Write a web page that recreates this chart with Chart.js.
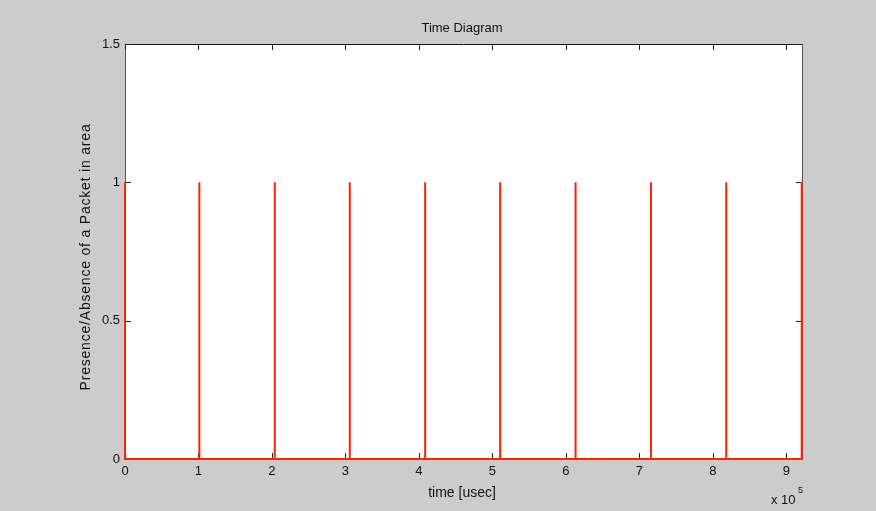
<!DOCTYPE html>
<html>
<head>
<meta charset="utf-8">
<script src="https://cdn.jsdelivr.net/npm/chart.js@4.4.1/dist/chart.umd.min.js"></script>
<style>
  html, body { margin: 0; padding: 0; background: #cccccc; }
  canvas { display: block; }
</style>
</head>
<body>
<canvas id="timeChart" width="876" height="511"></canvas>
<script>
// packet arrival times in usec
const spikeTimes = [101200, 203800, 305900, 408500, 510600, 613200, 715800, 818300, 921000];
const startLevel = 1;
const spikeLevel = 1;
const xMax = 921400;
const xTicks = [0, 100000, 200000, 300000, 400000, 500000, 600000, 700000, 800000, 900000];
const yTicks = [0, 0.5, 1, 1.5];

const FONT = "Liberation Sans, Arial, Helvetica, sans-serif";

function buildPoints() {
  const pts = [{ x: 0, y: startLevel }, { x: 0, y: 0 }];
  spikeTimes.forEach((t, i) => {
    pts.push({ x: t, y: 0 });
    pts.push({ x: t, y: spikeLevel });
    if (i < spikeTimes.length - 1) pts.push({ x: t, y: 0 });
  });
  return pts;
}

const framePlugin = {
  id: "frame",
  beforeDraw(chart) {
    const { ctx, chartArea: a } = chart;
    ctx.save();
    ctx.fillStyle = "#ffffff";
    ctx.fillRect(a.left, a.top, a.right - a.left, a.bottom - a.top);
    ctx.restore();
  },
  beforeDatasetsDraw(chart) {
    const { ctx, chartArea: a, scales } = chart;
    ctx.save();
    ctx.lineWidth = 1;
    // box
    ctx.strokeStyle = "#111111";
    ctx.beginPath();
    ctx.moveTo(a.left, a.top + 0.5);
    ctx.lineTo(a.right, a.top + 0.5);
    ctx.stroke();
    ctx.strokeStyle = "#555555";
    ctx.beginPath();
    ctx.moveTo(a.left + 0.5, a.top);
    ctx.lineTo(a.left + 0.5, a.bottom);
    ctx.moveTo(a.right + 0.5, a.top);
    ctx.lineTo(a.right + 0.5, a.bottom);
    ctx.moveTo(a.left, a.bottom + 0.5);
    ctx.lineTo(a.right, a.bottom + 0.5);
    ctx.stroke();
    // inside ticks
    ctx.strokeStyle = "#222222";
    ctx.beginPath();
    xTicks.forEach((v) => {
      const px = Math.round(scales.x.getPixelForValue(v)) + 0.5;
      ctx.moveTo(px, a.bottom);
      ctx.lineTo(px, a.bottom - 6);
      ctx.moveTo(px, a.top);
      ctx.lineTo(px, a.top + 6);
    });
    yTicks.forEach((v) => {
      const py = Math.round(scales.y.getPixelForValue(v)) + 0.5;
      ctx.moveTo(a.left, py);
      ctx.lineTo(a.left + 6, py);
      ctx.moveTo(a.right, py);
      ctx.lineTo(a.right - 6, py);
    });
    ctx.stroke();
    ctx.restore();
  },
  afterDraw(chart) {
    const { ctx, chartArea: a } = chart;
    const midX = (a.left + a.right) / 2;
    ctx.save();
    ctx.fillStyle = "#111111";
    ctx.textAlign = "center";
    ctx.textBaseline = "middle";
    ctx.font = "13px " + FONT;
    ctx.fillText("Time Diagram", 462, 28);
    ctx.font = "14px " + FONT;
    ctx.fillText("time [usec]", 462, 493);
    // multiplier
    ctx.font = "13px " + FONT;
    ctx.textAlign = "left";
    ctx.fillText("x 10", 771, 500);
    ctx.font = "9px " + FONT;
    ctx.fillText("5", 798, 491);
    // y label
    ctx.font = "14px " + FONT;
    ctx.letterSpacing = "0.8px";
    ctx.translate(86, 257);
    ctx.rotate(-Math.PI / 2);
    ctx.textAlign = "center";
    ctx.fillText("Presence/Absence of a Packet in area", 0, 0);
    ctx.restore();
  },
};

new Chart(document.getElementById("timeChart"), {
  type: "line",
  data: {
    datasets: [
      {
        data: buildPoints(),
        borderColor: "#ff2200",
        borderWidth: 2,
        pointRadius: 0,
        tension: 0,
        fill: false,
        clip: 4,
      },
    ],
  },
  options: {
    responsive: false,
    animation: false,
    devicePixelRatio: 1,
    layout: { padding: { top: 44, right: 74, left: 0, bottom: 0 } },
    plugins: {
      legend: { display: false },
      tooltip: { enabled: false },
    },
    scales: {
      x: {
        type: "linear",
        min: 0,
        max: xMax,
        afterBuildTicks: (scale) => {
          scale.ticks = xTicks.map((v) => ({ value: v }));
        },
        afterFit: (scale) => {
          scale.height = 52;
        },
        grid: { display: false, drawTicks: false },
        border: { display: false },
        ticks: {
          padding: 5,
          color: "#111111",
          font: { family: FONT, size: 13 },
          maxRotation: 0,
          autoSkip: false,
          callback: (v) => String(v / 100000),
        },
      },
      y: {
        type: "linear",
        min: 0,
        max: 1.5,
        afterBuildTicks: (scale) => {
          scale.ticks = yTicks.map((v) => ({ value: v }));
        },
        afterFit: (scale) => {
          scale.width = 125;
        },
        grid: { display: false, drawTicks: false },
        border: { display: false },
        ticks: {
          padding: 5,
          color: "#111111",
          font: { family: FONT, size: 13 },
          callback: (v) => String(v),
        },
      },
    },
  },
  plugins: [framePlugin],
});
</script>
</body>
</html>
